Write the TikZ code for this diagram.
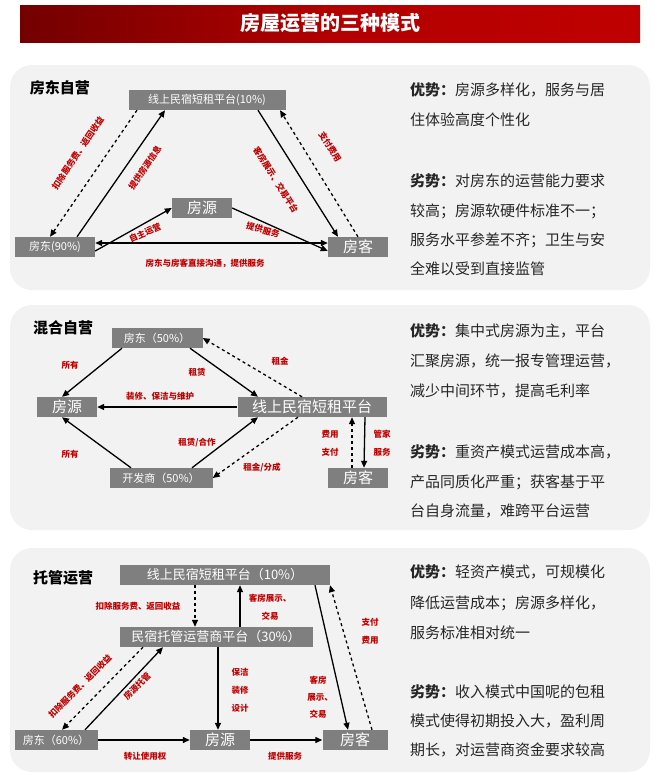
\documentclass[tikz,border=0pt]{standalone}
\usepackage{fontspec}
\setmainfont{Noto Sans CJK SC}
\usetikzlibrary{arrows.meta}
\definecolor{boxg}{HTML}{7F7F7F}
\definecolor{lab}{HTML}{C00000}
\definecolor{pan}{HTML}{F2F2F2}
\tikzset{
 bx/.style={fill=boxg,text=white,inner sep=0pt,minimum height=20pt,font=\fontsize{11}{12}\selectfont},
 bbx/.style={bx,font=\fontsize{15}{16}\selectfont},
 ar/.style={-{Triangle[length=7pt,width=6pt]},line width=1.3pt},
 dar/.style={ar,dashed},
 lb/.style={text=lab,font=\fontsize{8.5}{9}\selectfont\bfseries,inner sep=1pt},
 rt/.style={anchor=west,inner sep=0pt,font=\fontsize{15}{16}\selectfont,text=black!85},
 ttl/.style={font=\fontsize{15}{16}\selectfont\bfseries},
 panel/.style={fill=pan,rounded corners=22pt,draw=none}
}
\begin{document}
\begin{tikzpicture}[x=1pt,y=-1pt]
\useasboundingbox (0,0) rectangle (660,777);
\fill[white] (0,0) rectangle (660,777);
% title
\shade[left color=red!45!black,right color=red!75!black,middle color=red!70!black] (20,5) rectangle (640,42);
\node[text=white,font=\fontsize{20}{22}\selectfont\bfseries] (title) at (330,23) {房屋运营的三种模式};
% panels
\fill[panel] (10,65) rectangle (650,290);
\fill[panel] (10,305) rectangle (650,530);
\fill[panel] (10,548) rectangle (650,772);

% ---------- panel 1
\node[ttl] (t1) at (60,88) {房东自营};
\node[bx,minimum width=157pt] (p1) at (207,100) {线上民宿短租平台(10\%)};
\node[bbx,minimum width=60pt] (s1) at (202,208) {房源};
\node[bx,minimum width=80pt] (l1) at (55,247) {房东(90\%)};
\node[bbx,minimum width=60pt] (g1) at (358,247) {房客};
\draw[dar] ([xshift=-70pt]p1.south) -- ([xshift=-5pt]l1.north);
\draw[ar] ([xshift=22pt]l1.north) -- ([xshift=-42pt]p1.south);
\draw[ar] ([xshift=51pt]p1.south) -- ([xshift=-20pt]g1.north);
\draw[dar] ([xshift=0pt]g1.north) -- ([xshift=73pt]p1.south);
\draw[ar] ([yshift=-4pt]l1.east) -- (s1.west);
\draw[ar] (s1.east) -- ([yshift=-4pt]g1.west);
\draw[{Triangle[length=7pt,width=6pt]}-{Triangle[length=7pt,width=6pt]},line width=1.3pt] ([yshift=4pt]l1.east) -- ([yshift=4pt]g1.west);
\node[lb,rotate=56] (a1) at (78,153) {扣除服务费、返回收益};
\node[lb,rotate=56] (a2) at (145,168) {提供房源信息};
\node[lb,rotate=-58] (a3) at (276,180) {客房展示、交易平台};
\node[lb,rotate=-58] (a4) at (330,147) {支付费用};
\node[lb,rotate=24] (a5) at (145,233) {自主运营};
\node[lb,rotate=-15] (a6) at (263,230) {提供服务};
\node[lb] (a7) at (205,263) {房东与房客直接沟通，提供服务};
\node[rt] at (410,90) {\textbf{优势：}房源多样化，服务与居};
\node[rt] at (410,120) {住体验高度个性化};
\node[rt] at (410,181) {\textbf{劣势：}对房东的运营能力要求};
\node[rt] at (410,211) {较高；房源软硬件标准不一；};
\node[rt] at (410,240) {服务水平参差不齐；卫生与安};
\node[rt] at (410,269) {全难以受到直接监管};

% ---------- panel 2
\node[ttl] (t2) at (63,328) {混合自营};
\node[bx,minimum width=91pt] (l2) at (157,338) {房东（50\%）};
\node[bbx,minimum width=60pt] (s2) at (67,407) {房源};
\node[bbx,minimum width=149pt] (p2) at (312,407) {线上民宿短租平台};
\node[bx,minimum width=103pt] (d2) at (161,478) {开发商（50\%）};
\node[bbx,minimum width=60pt] (g2) at (358,478) {房客};
\draw[ar] ([xshift=-35pt]l2.south) -- ([xshift=-5pt]s2.north);
\draw[ar] ([xshift=33pt]l2.south) -- ([xshift=-54pt]p2.north);
\draw[dar] ([xshift=-10pt]p2.north) -- (l2.east);
\draw[ar] (p2.west) -- (s2.east);
\draw[ar] ([xshift=-30pt]d2.north) -- ([xshift=-5pt]s2.south);
\draw[ar] ([xshift=31pt]d2.north) -- ([xshift=-54pt]p2.south);
\draw[dar] ([xshift=-14pt]p2.south) -- (d2.east);
\draw[dar] ([xshift=-6pt]g2.north) -- ([xshift=40pt]p2.south);
\draw[ar] ([xshift=53pt]p2.south) -- ([xshift=6pt]g2.north);
\node[lb] at (70,365) {所有};
\node[lb] at (197,372) {租赁};
\node[lb] at (280,361) {租金};
\node[lb] at (160,396) {装修、保洁与维护};
\node[lb] at (197,443) {租赁/合作};
\node[lb] at (70,454) {所有};
\node[lb] at (262,468) {租金/分成};
\node[lb] at (330,434) {费用};
\node[lb] at (330,452) {支付};
\node[lb] at (382,434) {管家};
\node[lb] at (382,452) {服务};
\node[rt] at (410,331) {\textbf{优势：}集中式房源为主，平台};
\node[rt] at (410,361) {汇聚房源，统一报专管理运营，};
\node[rt] at (410,391) {减少中间环节，提高毛利率};
\node[rt] at (410,452) {\textbf{劣势：}重资产模式运营成本高，};
\node[rt] at (410,482) {产品同质化严重；获客基于平};
\node[rt] at (410,511) {台自身流量，难跨平台运营};

% ---------- panel 3
\node[ttl] (t3) at (63,578) {托管运营};
\node[bx,minimum width=210pt,font=\fontsize{13}{14}\selectfont] (p3) at (225,575) {线上民宿短租平台（10\%）};
\node[bx,minimum width=193pt,font=\fontsize{13}{14}\selectfont] (o3) at (216,637) {民宿托管运营商平台（30\%）};
\node[bx,minimum width=83pt] (l3) at (56,740) {房东（60\%）};
\node[bbx,minimum width=60pt] (s3) at (220,740) {房源};
\node[bbx,minimum width=65pt] (g3) at (355,740) {房客};
\draw[dar] (p3.south -| 195,0) -- (o3.north -| 195,0);
\draw[ar] (o3.north -| 240,0) -- (p3.south -| 240,0);
\draw[ar] (o3.south -| 218,0) -- (s3.north -| 218,0);
\draw[dar] (o3.south -| 143,0) -- (l3.north -| 62,0);
\draw[ar] (l3.north -| 85,0) -- (o3.south -| 163,0);
\draw[ar] (p3.south -| 315,0) -- (g3.north -| 348,0);
\draw[dar] (g3.north -| 372,0) -- (p3.south -| 330,0);
\draw[ar] (l3.east) -- (s3.west);
\draw[ar] (s3.east) -- (g3.west);
\node[lb] at (138,606) {扣除服务费、返回收益};
\node[lb] at (270,598) {客房展示、};
\node[lb] at (270,616) {交易};
\node[lb] at (240,672) {保洁};
\node[lb] at (240,690) {装修};
\node[lb] at (240,708) {设计};
\node[lb] at (370,622) {支付};
\node[lb] at (370,640) {费用};
\node[lb] at (318,680) {客房};
\node[lb] at (320,697) {展示、};
\node[lb] at (318,714) {交易};
\node[lb,rotate=45] at (80,686) {扣除服务费、返回收益};
\node[lb,rotate=45] at (137,686) {房源托管};
\node[lb] at (145,756) {转让使用权};
\node[lb] at (285,756) {提供服务};
\node[rt] at (410,572) {\textbf{优势：}轻资产模式，可规模化};
\node[rt] at (410,603) {降低运营成本；房源多样化，};
\node[rt] at (410,633) {服务标准相对统一};
\node[rt] at (410,692) {\textbf{劣势：}收入模式中国呢的包租};
\node[rt] at (410,721) {模式使得初期投入大，盈利周};
\node[rt] at (410,750) {期长，对运营商资金要求较高};
\end{tikzpicture}
\end{document}
